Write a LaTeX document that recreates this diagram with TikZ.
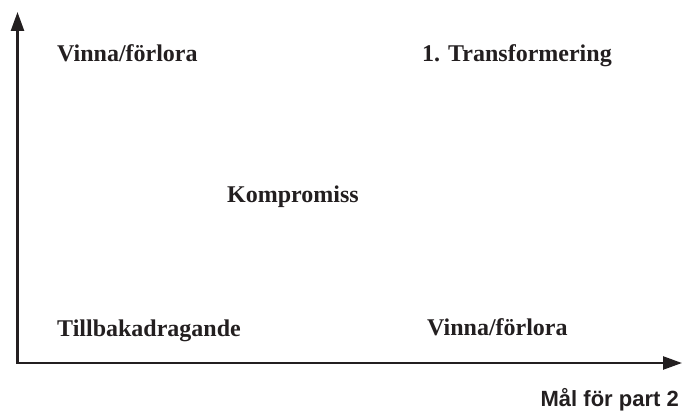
\documentclass[tikz,border=0pt]{standalone}
\usepackage{fontspec}
\setmainfont{Liberation Serif}
\newfontfamily\labelsans{Liberation Sans}
\usetikzlibrary{arrows.meta}
\definecolor{ink}{HTML}{231F20}
\begin{document}
\begin{tikzpicture}[x=1pt,y=-1pt,
  lbl/.style={inner sep=0pt,anchor=base west,text=ink,font=\fontsize{24}{28}\selectfont\bfseries},
  axislbl/.style={inner sep=0pt,anchor=base east,text=ink,font=\labelsans\fontsize{22}{26}\selectfont\bfseries},
  axis/.style={draw=ink,line width=2.4pt,line join=miter,{Triangle[length=19pt,width=13pt]}-{Triangle[length=19pt,width=13pt]}}]
\useasboundingbox (0,0) rectangle (685,412);
\coordinate (O) at (17.5,363);
\coordinate (Ytip) at (17.5,12);
\coordinate (Xtip) at (682,363);
\draw[axis] (Ytip) -- (O) -- (Xtip);
\node[lbl] (vtl) at (57,61.5) {Vinna/förlora};
\node[lbl] (tr) at (422,61.5) {1. Transformering};
\node[lbl] (ko) at (227,202) {Kompromiss};
\node[lbl] (ti) at (57,336) {Tillbakadragande};
\node[lbl] (vbr) at (427,335) {Vinna/förlora};
\node[axislbl] (mal) at (679,406) {Mål för part 2};
\end{tikzpicture}
\end{document}
